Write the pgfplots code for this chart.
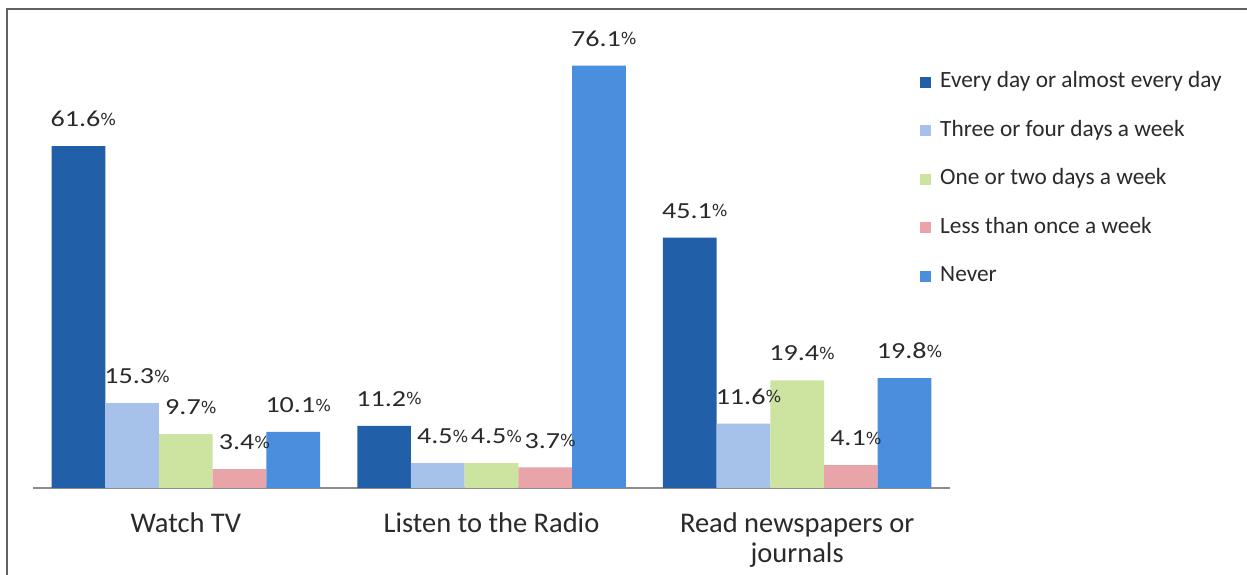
\documentclass[border=0pt]{standalone}
\usepackage{fontspec}
\setmainfont{Carlito}
\newfontfamily\pctfont{DejaVu Sans}
\usepackage{pgfplots}
\pgfplotsset{compat=1.18}
\definecolor{cA}{HTML}{2160A8}
\definecolor{cB}{HTML}{A6C2EA}
\definecolor{cC}{HTML}{CDE3A0}
\definecolor{cD}{HTML}{E9A4AA}
\definecolor{cE}{HTML}{4A8FDD}
\definecolor{txt}{HTML}{2A2A2A}
\begin{document}
\begin{tikzpicture}
\useasboundingbox (0,0) rectangle (1247pt,575pt);
\fill[white] (0,0) rectangle (1247pt,575pt);
\draw[line width=2.4pt, color=black!62] (7pt,0) -- (7pt,566pt) -- (1247pt,566pt);
\begin{axis}[
  at={(33pt,87pt)}, anchor=south west,
  scale only axis, width=917pt, height=444pt,
  xmin=-0.5, xmax=2.5, ymin=0, ymax=80,
  ybar=0pt, bar width=53.7pt,
  axis x line=bottom, axis y line=none,
  axis line style={-, color=black!45, line width=1.6pt},
  xtick={0,1,2}, major tick length=0pt,
  xticklabels={Watch TV, Listen to the Radio, {Read newspapers or\\journals}},
  xticklabel style={anchor=north, inner sep=0pt, yshift=-25pt, align=center,
     font=\fontsize{28.5}{30}\selectfont, text=txt},
  nodes near coords={\scalebox{1.22}[1]{\fontsize{23}{23}\selectfont\pgfmathprintnumber[fixed,precision=1,fixed zerofill,assume math mode=true]{\pgfplotspointmeta}}\raisebox{1.5pt}{\pctfont\fontsize{16.5}{16.5}\selectfont\%}},
  every node near coord/.append style={text=txt, anchor=south, inner sep=0pt, yshift=19pt, xshift=5pt},
  legend cell align=left,
  legend style={at={(0.964,0.943)}, anchor=north west, draw=none, fill=none,
     font=\fontsize{23.3}{23.3}\selectfont, text=txt,
     nodes={text height=16pt, text depth=5pt, inner sep=0pt},
     row sep=27.5pt,
     /tikz/every odd column/.append style={column sep=9pt}},
  legend image code/.code={\fill[#1,draw=none] (0pt,-5.5pt) rectangle (11pt,5.5pt);},
]
\addplot[fill=cA, draw=none] coordinates {(0,61.6) (1,11.2) (2,45.1)};
\addplot[fill=cB, draw=none] coordinates {(0,15.3) (1,4.5) (2,11.6)};
\addplot[fill=cC, draw=none] coordinates {(0,9.7) (1,4.5) (2,19.4)};
\addplot[fill=cD, draw=none] coordinates {(0,3.4) (1,3.7) (2,4.1)};
\addplot[fill=cE, draw=none] coordinates {(0,10.1) (1,76.1) (2,19.8)};
\legend{Every day or almost every day, Three or four days a week, One or two days a week, Less than once a week, Never}
\end{axis}
\end{tikzpicture}
\end{document}
